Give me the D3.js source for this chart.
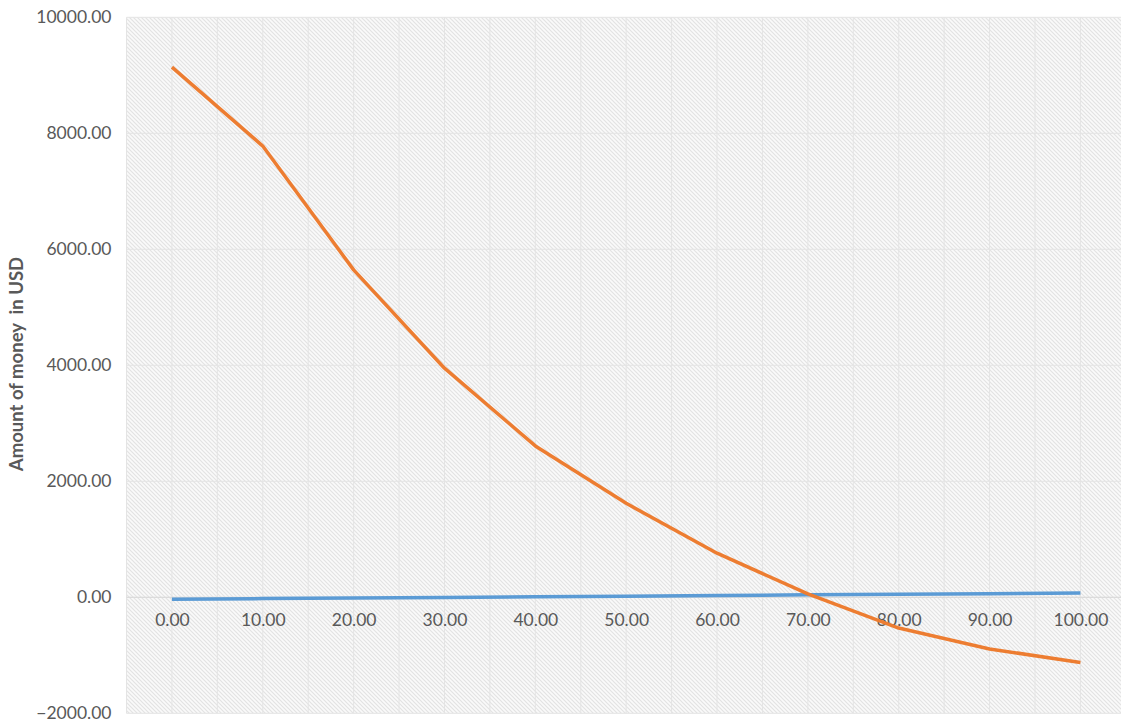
<!DOCTYPE html>
<html><head><meta charset="utf-8">
<script src="https://cdn.jsdelivr.net/npm/d3@7"></script>
<style>body{margin:0;background:#fff}svg{display:block}</style>
</head><body>
<script>
const categories = [0,10,20,30,40,50,60,70,80,90,100];
const orangeValues = [9140,7780,5645,3950,2610,1620,760,60,-530,-890,-1125];
const blueValues = [-35,-22,-12,-3,8,20,30,42,52,62,74];
const yTicks = [-2000,0,2000,4000,6000,8000,10000];
const yTitle = "Amount of money  in USD";

const W = 1121, H = 722;
const plotLeft = 126.5, plotTop = 17.3, plotBottom = 713.3;
const step = 90.85;
const plotRight = plotLeft + step * categories.length;
const font = "Lato, 'Open Sans', sans-serif";

const svg = d3.select("body").append("svg").attr("width", W).attr("height", H);
const defs = svg.append("defs");
const pat = defs.append("pattern").attr("id","hatch").attr("patternUnits","userSpaceOnUse")
  .attr("width",4).attr("height",4);
pat.append("rect").attr("width",4).attr("height",4).attr("fill","#fafafa");
pat.append("path").attr("d","M-1,-1 L5,5 M-1,3 L1,5 M3,-1 L5,1").attr("stroke","#e3e3e3").attr("stroke-width",1.2);

const x = d3.scalePoint().domain(categories).range([plotLeft + step/2, plotRight - step/2]);
const y = d3.scaleLinear().domain([-2000,10000]).range([plotBottom, plotTop]);

svg.append("rect").attr("x",plotLeft).attr("y",plotTop).attr("width",plotRight-plotLeft).attr("height",plotBottom-plotTop).attr("fill","url(#hatch)");

const vLines = d3.range(0, categories.length*2+1).map(i => plotLeft + i*step/2);
svg.append("g").selectAll("line").data(vLines).join("line")
  .attr("x1",d=>d).attr("x2",d=>d).attr("y1",plotTop).attr("y2",plotBottom)
  .attr("stroke","#e4e4e4").attr("stroke-width",1);
svg.append("g").selectAll("line").data(yTicks).join("line")
  .attr("x1",plotLeft).attr("x2",plotRight).attr("y1",d=>y(d)).attr("y2",d=>y(d))
  .attr("stroke","#e4e4e4").attr("stroke-width",1);
svg.append("line").attr("x1",plotLeft).attr("x2",plotRight).attr("y1",y(0)).attr("y2",y(0))
  .attr("stroke","#d9d9d9").attr("stroke-width",1);

const fmt = d3.format(".2f");
const yAxis = d3.axisLeft(y).tickValues(yTicks).tickFormat(fmt).tickSize(0).tickPadding(15);
const gy = svg.append("g").attr("transform",`translate(${plotLeft},0)`).call(yAxis);
gy.select(".domain").remove();
gy.selectAll("text").attr("fill","#595959").style("font-family",font).style("font-size","17.5px");

const xAxis = d3.axisBottom(x).tickFormat(fmt).tickSize(0).tickPadding(16);
const gx = svg.append("g").attr("transform",`translate(0,${y(0)})`).call(xAxis);
gx.select(".domain").remove();
gx.selectAll("text").attr("fill","#595959").style("font-family",font).style("font-size","17.5px");

const line = d3.line().x((d,i)=>x(categories[i])).y(d=>y(d));
svg.append("path").datum(blueValues).attr("d",line).attr("fill","none")
  .attr("stroke","#5b9bd5").attr("stroke-width",3.5).attr("stroke-linejoin","round");
svg.append("path").datum(orangeValues).attr("d",line).attr("fill","none")
  .attr("stroke","#ed7d31").attr("stroke-width",3.5).attr("stroke-linejoin","round");

svg.append("text").attr("transform",`translate(23,364) rotate(-90)`)
  .attr("text-anchor","middle").attr("fill","#595959")
  .style("font-family",font).style("font-size","18.5px").style("font-weight","bold")
  .style("white-space","pre")
  .text(yTitle);
</script>
</body></html>
